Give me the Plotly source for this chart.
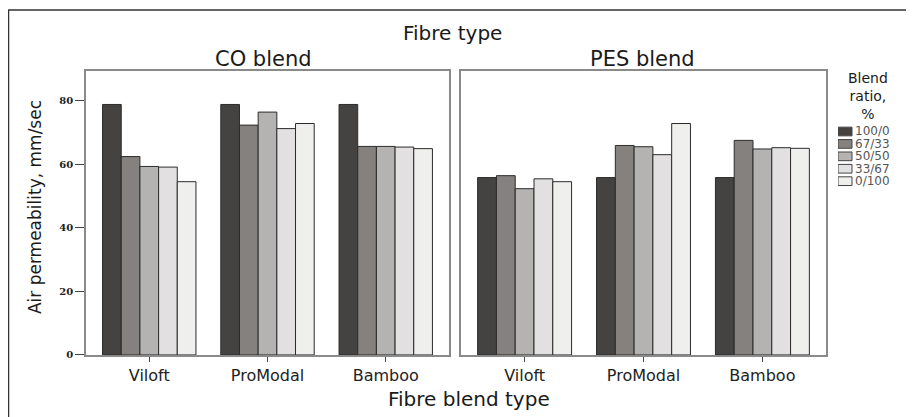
import plotly.graph_objects as go

# ---- data ----
fibres = ["Viloft", "ProModal", "Bamboo"]
ratios = ["100/0", "67/33", "50/50", "33/67", "0/100"]
panels = ["CO blend", "PES blend"]

# CO blend values per blend ratio (Viloft, ProModal, Bamboo)
co_100_0 = [78.8, 78.8, 78.8]
co_67_33 = [62.4, 72.3, 65.6]
co_50_50 = [59.3, 76.4, 65.6]
co_33_67 = [59.1, 71.2, 65.4]
co_0_100 = [54.5, 72.8, 64.9]

# PES blend values per blend ratio (Viloft, ProModal, Bamboo)
pes_100_0 = [55.8, 55.8, 55.8]
pes_67_33 = [56.4, 65.9, 67.5]
pes_50_50 = [52.3, 65.5, 64.8]
pes_33_67 = [55.4, 63.0, 65.2]
pes_0_100 = [54.5, 72.8, 65.0]

y_ticks = [0, 20, 40, 60, 80]

co_series = [co_100_0, co_67_33, co_50_50, co_33_67, co_0_100]
pes_series = [pes_100_0, pes_67_33, pes_50_50, pes_33_67, pes_0_100]

colors = ["#444342", "#85817e", "#b4b3b2", "#e2e0e0", "#efefee"]
outline = "#2b2b2b"
FONT = "DejaVu Sans"

W, H = 914, 417
OFF = 8  # page body margin offset

def px(x):
    return (x - OFF) / W

def py(y):
    return (H - (y - OFF)) / H

fig = go.Figure()

for pi, series in enumerate([co_series, pes_series]):
    xa = "x" if pi == 0 else "x2"
    ya = "y" if pi == 0 else "y2"
    for si, vals in enumerate(series):
        fig.add_trace(go.Bar(
            x=fibres, y=vals, name=ratios[si], xaxis=xa, yaxis=ya,
            marker=dict(color=colors[si], line=dict(color=outline, width=1)),
            offsetgroup=str(si), showlegend=False,
        ))

# legend swatches built on an auxiliary axis (unit-length horizontal bars)
fig.add_trace(go.Bar(
    x=[1] * len(ratios), y=ratios, orientation="h", xaxis="x3", yaxis="y3",
    width=0.7, text=ratios, textposition="outside", constraintext="none",
    cliponaxis=False,
    textfont=dict(family=FONT, size=12, color="#555"),
    marker=dict(color=colors, line=dict(color="#444", width=1)),
    showlegend=False, hoverinfo="skip",
))

frame = dict(showline=True, mirror=True, linecolor="#8a8a8a", linewidth=1.5,
             showgrid=False, zeroline=False)
xcommon = dict(range=[-0.535, 2.535], ticks="outside", ticklen=5, tickcolor="#444",
               tickwidth=1.2,
               tickfont=dict(family=FONT, size=16, color="#222"), **frame)
ycommon = dict(range=[0, 89.3], **frame)

def ann(text, x, y, size, **kw):
    return dict(text=text, x=px(x), y=py(y), xref="paper", yref="paper",
                xanchor="center", yanchor="middle", showarrow=False,
                font=dict(size=size), **kw)

fig.update_layout(
    width=W, height=H,
    margin=dict(l=0, r=0, t=0, b=0),
    paper_bgcolor="white", plot_bgcolor="white",
    barmode="group", bargap=0.21, bargroupgap=0,
    xaxis=dict(domain=[px(86), px(449)], anchor="y", **xcommon),
    xaxis2=dict(domain=[px(461), px(826)], anchor="y2", **xcommon),
    yaxis=dict(domain=[py(360), py(72)], anchor="x", tickvals=y_ticks,
               ticks="outside", ticklen=9, tickcolor="#444", tickwidth=1.2,
               tickfont=dict(family="DejaVu Serif", size=10, color="#222", weight="bold"),
               **ycommon),
    yaxis2=dict(domain=[py(360), py(72)], anchor="x2", showticklabels=False,
                ticks="", **ycommon),
    xaxis3=dict(domain=[px(838), px(908)], anchor="y3", range=[0, 5], visible=False),
    yaxis3=dict(domain=[py(190), py(127)], anchor="x3", range=[4.5, -0.5],
                type="category", visible=False),
    font=dict(family=FONT, color="#1a1a1a"),
    annotations=[
        ann("Fibre type", 452, 33, 20),
        ann(panels[0], 263, 60, 21),
        ann(panels[1], 642, 60, 21),
        ann("Fibre blend type", 469, 405, 20),
        ann("Air permeability, mm/sec", 35, 210, 17, textangle=-90),
        ann("Blend<br>ratio,<br>%", 868, 97, 14, align="center"),
    ],
    shapes=[
        dict(type="rect", xref="paper", yref="paper", x0=px(8.5), x1=1.05,
             y0=-0.05, y1=py(10), line=dict(color="#333", width=1.5)),
    ],
)

fig.write_html("out.html")
